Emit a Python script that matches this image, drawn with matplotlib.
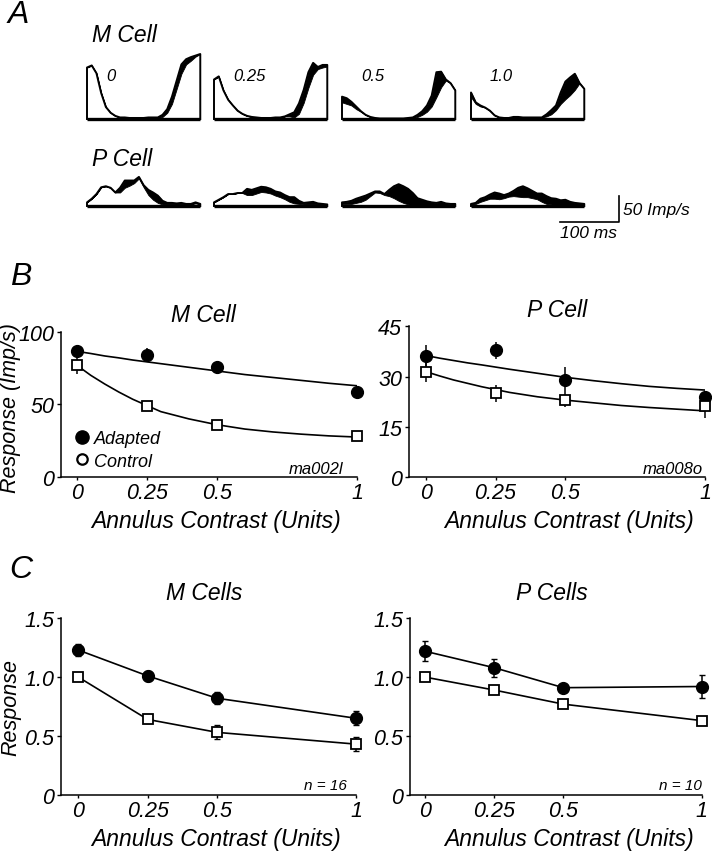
import numpy as np
import matplotlib
matplotlib.use('Agg')
import matplotlib.pyplot as plt
from matplotlib.lines import Line2D

plt.rcParams['font.family'] = ['Liberation Sans', 'DejaVu Sans']
plt.rcParams['font.style'] = 'italic'
plt.rcParams['axes.linewidth'] = 1.1

W, H = 712, 853

# ---- A: PSTHs (imp/s), 8 ms bins ----
psth_t = [0, 8, 16, 24, 32, 40, 48, 56, 64, 72, 80, 88, 96, 104, 112, 120,
          128, 136, 144, 152, 160, 168, 176, 184, 192]
psth_labels = ['0', '0.25', '0.5', '1.0']

m0_adapt = [99, 103, 88, 50, 23, 12, 6, 3, 3, 2, 2, 2, 2, 3, 3, 3, 8, 19, 43, 74, 105, 115, 119, 122, 125]
m0_ctrl = [99, 103, 88, 50, 23, 12, 6, 3, 3, 2, 2, 2, 2, 3, 3, 3, 4, 12, 29, 58, 87, 105, 112, 120, 125]
m1_adapt = [76, 82, 55, 37, 26, 16, 10, 6, 4, 3, 2, 2, 2, 3, 3, 5, 9, 13, 30, 56, 90, 108, 100, 104, 104]
m1_ctrl = [76, 82, 55, 37, 26, 16, 10, 6, 4, 3, 2, 2, 2, 3, 3, 5, 5, 3, 10, 31, 60, 85, 96, 99, 101]
m2_adapt = [43, 40, 33, 24, 15, 8, 4, 2, 1, 1, 1, 1, 1, 1, 2, 3, 8, 15, 26, 45, 90, 91, 76, 69, 55]
m2_ctrl = [32, 29, 26, 19, 14, 8, 4, 2, 1, 1, 1, 1, 1, 1, 2, 2, 4, 8, 14, 24, 42, 61, 74, 69, 55]
m3_adapt = [51, 32, 26, 22, 16, 7, 3, 2, 2, 4, 4, 3, 3, 3, 3, 3, 9, 17, 26, 51, 72, 80, 87, 69, 58]
m3_ctrl = [42, 29, 24, 22, 16, 7, 3, 2, 2, 4, 4, 3, 3, 3, 3, 3, 5, 9, 17, 29, 38, 46, 56, 69, 58]

p0_adapt = [7, 14, 23, 36, 38, 35, 26, 35, 49, 49, 49, 56, 40, 31, 26, 20, 10, 6, 6, 5, 6, 4, 4, 7, 4]
p0_ctrl = [7, 14, 23, 36, 38, 35, 26, 26, 35, 39, 44, 53, 36, 21, 12, 6, 3, 3, 3, 3, 3, 3, 3, 5, 3]
p1_adapt = [7, 12, 17, 23, 23, 25, 25, 33, 31, 34, 37, 36, 33, 28, 26, 21, 17, 17, 10, 6, 7, 8, 5, 4, 3]
p1_ctrl = [7, 12, 17, 23, 23, 25, 25, 21, 21, 24, 27, 26, 24, 20, 17, 13, 8, 5, 4, 3, 3, 3, 3, 3, 3]
p2_adapt = [7, 8, 10, 14, 17, 20, 24, 28, 28, 23, 31, 38, 42, 38, 33, 25, 15, 12, 9, 7, 6, 8, 5, 4, 4]
p2_ctrl = [3, 4, 4, 6, 8, 12, 19, 26, 25, 21, 19, 15, 10, 6, 3, 1, 2, 2, 2, 2, 2, 2, 2, 2, 2]
p3_adapt = [4, 6, 14, 17, 22, 26, 24, 21, 24, 29, 35, 38, 34, 29, 24, 24, 19, 15, 14, 11, 12, 8, 6, 5, 4]
p3_ctrl = [2, 4, 8, 11, 14, 14, 13, 15, 18, 19, 18, 17, 17, 15, 13, 8, 4, 3, 2, 2, 2, 2, 2, 2, 2]

# ---- B / C: response vs annulus contrast ----
contrast = [0, 0.25, 0.5, 1]
contrast_labels = ['0', '0.25', '0.5', '1']

bm_adapt = [87, 84, 76, 58.5]
bm_adapt_err = [2, 5, 2, 2]
bm_ctrl = [77, 49, 36, 28]
bm_ctrl_err = [6, 1.5, 1.5, 2.5]
bp_adapt = [36.2, 37.8, 29, 23.8]
bp_adapt_err = [3.3, 2.5, 4, 1.5]
bp_ctrl = [31.5, 25, 23, 21.3]
bp_ctrl_err = [3, 2.5, 2, 3.7]

fit_x = [0, 0.05, 0.1, 0.15, 0.2, 0.3, 0.4, 0.5, 0.6, 0.7, 0.8, 0.9, 1.0]
bm_adapt_fit = [86.5, 85, 83.3, 82, 80.5, 78, 75.5, 73, 70.5, 68.5, 66.5, 64.5, 62.8]
bm_ctrl_fit = [77, 70, 64, 58.5, 53.5, 45, 40, 36, 33, 31, 29.5, 28.3, 27.5]
bp_adapt_fit = [36.3, 35.5, 34.8, 34.1, 33.5, 32.2, 31, 29.8, 28.8, 27.9, 27.1, 26.5, 26]
bp_ctrl_fit = [31.5, 30.2, 29, 28, 27, 25.3, 24, 23, 22.2, 21.4, 20.8, 20.3, 19.8]

cm_adapt = [1.23, 1.01, 0.82, 0.65]
cm_adapt_err = [0.05, 0.04, 0.05, 0.06]
cm_ctrl = [1.0, 0.64, 0.53, 0.43]
cm_ctrl_err = [0, 0.03, 0.06, 0.06]
cp_adapt = [1.22, 1.08, 0.91, 0.92]
cp_adapt_err = [0.085, 0.075, 0.03, 0.1]
cp_ctrl = [1.0, 0.89, 0.77, 0.63]
cp_ctrl_err = [0, 0.02, 0.02, 0.02]

fig = plt.figure(figsize=(W / 100, H / 100), dpi=100)


def px_axes(l, t, r, b):
    return fig.add_axes([l / W, 1 - b / H, (r - l) / W, (b - t) / H])


def ftext(x, y, s, **kw):
    fig.text(x / W, 1 - y / H, s, **kw)


# --- panel A ---
px_ms = 0.59   # px per ms
px_imp = 0.52  # px per imp/s
box_left = [87, 214, 342, 471]
m_rows = [(m0_adapt, m0_ctrl), (m1_adapt, m1_ctrl), (m2_adapt, m2_ctrl), (m3_adapt, m3_ctrl)]
p_rows = [(p0_adapt, p0_ctrl), (p1_adapt, p1_ctrl), (p2_adapt, p2_ctrl), (p3_adapt, p3_ctrl)]


def draw_psth(ax, adapt, ctrl):
    ax.fill_between(psth_t, ctrl, adapt, color='black', lw=0.6)
    top = np.maximum(adapt, ctrl)
    ax.plot([psth_t[0]] + psth_t + [psth_t[-1]], [0] + list(top) + [0],
            color='black', lw=1.4, clip_on=False)
    ax.plot([psth_t[0], psth_t[-1]], [0, 0], color='black', lw=2.4,
            clip_on=False, solid_capstyle='butt')
    ax.set_xlim(0, 192)
    ax.set_ylim(0, 130)
    ax.axis('off')


for i, (adapt, ctrl) in enumerate(m_rows):
    l = box_left[i]
    ax = px_axes(l, 120 - 130 * px_imp, l + 192 * px_ms, 120)
    draw_psth(ax, adapt, ctrl)
    ax.text(32, 83, psth_labels[i], fontsize=12, ha='left', va='center')

for i, (adapt, ctrl) in enumerate(p_rows):
    l = box_left[i]
    ax = px_axes(l, 207 - 130 * px_imp, l + 192 * px_ms, 207)
    draw_psth(ax, adapt, ctrl)

# scale bar: 100 ms / 50 imp/s
ax.plot([151, 251, 251], [-31, -31, 19], color='black', lw=1.2, clip_on=False)
ax.text(257, -7, '50 Imp/s', fontsize=12.5, ha='left', va='center')
ax.text(151, -37, '100 ms', fontsize=12.5, ha='left', va='top')

ftext(18, 15, 'A', fontsize=23, ha='center', va='center')
ftext(92, 36, 'M Cell', fontsize=16.5, ha='left', va='center')
ftext(92, 160, 'P Cell', fontsize=16.5, ha='left', va='center')


# --- panels B and C ---
def style_axes(ax, xlo, ylim, yticks, ylabels):
    ax.set_xlim(xlo, 1.0)
    ax.set_ylim(*ylim)
    ax.spines['top'].set_visible(False)
    ax.spines['right'].set_visible(False)
    ax.set_xticks(contrast)
    ax.set_xticklabels(contrast_labels)
    ax.set_yticks(yticks)
    ax.set_yticklabels(ylabels)
    ax.tick_params(axis='y', length=3, width=1, pad=2, labelsize=15.5)
    ax.tick_params(axis='x', length=2, width=1, pad=1.5, labelsize=15.5)


def draw_points(ax, adapt, adapt_err, ctrl, ctrl_err, capsize, connect):
    if connect:
        ax.plot(contrast, adapt, color='black', lw=1.2, clip_on=False)
        ax.plot(contrast, ctrl, color='black', lw=1.2, clip_on=False)
    ax.errorbar(contrast, adapt, yerr=adapt_err, fmt='none', ecolor='black',
                elinewidth=1.1, capsize=capsize, clip_on=False)
    ax.errorbar(contrast, ctrl, yerr=ctrl_err, fmt='none', ecolor='black',
                elinewidth=1.1, capsize=capsize, clip_on=False)
    ax.plot(contrast, adapt, 'o', ms=8.5, mfc='black', mec='black', clip_on=False, zorder=4)
    ax.plot(contrast, ctrl, 's', ms=6.5, mfc='white', mec='black', mew=1.3,
            clip_on=False, zorder=4)


# B, M cell
ax = px_axes(61, 332.7, 357, 478)
style_axes(ax, -0.056, (0, 100), [0, 50, 100], ['0', '50', '100'])
ax.plot(fit_x, bm_adapt_fit, color='black', lw=1.2)
ax.plot(fit_x, bm_ctrl_fit, color='black', lw=1.2)
draw_points(ax, bm_adapt, bm_adapt_err, bm_ctrl, bm_ctrl_err, 0, False)
ax.set_title('M Cell', fontsize=16.5, pad=7.5, x=0.48)
ax.text(0.953, 0.01, 'ma002l', fontsize=12, ha='right', va='bottom', transform=ax.transAxes)
handles = [Line2D([], [], marker='o', ls='none', mfc='black', mec='black', ms=9.5),
           Line2D([], [], marker='o', ls='none', mfc='white', mec='black', ms=7.5, mew=1.6)]
ax.legend(handles, ['Adapted', 'Control'], loc='lower left', bbox_to_anchor=(0.045, 0.05),
          frameon=False, fontsize=13, handlelength=0.8, handletextpad=0.3,
          labelspacing=0.3, borderpad=0, borderaxespad=0)

# B, P cell
ax = px_axes(409.3, 327.3, 705, 478.3)
style_axes(ax, -0.0588, (0, 45), [0, 15, 30, 45], ['0', '15', '30', '45'])
ax.plot(fit_x, bp_adapt_fit, color='black', lw=1.2)
ax.plot(fit_x, bp_ctrl_fit, color='black', lw=1.2)
draw_points(ax, bp_adapt, bp_adapt_err, bp_ctrl, bp_ctrl_err, 0, False)
ax.set_title('P Cell', fontsize=16.5, pad=7.5)
ax.text(0.993, 0.01, 'ma008o', fontsize=12, ha='right', va='bottom', transform=ax.transAxes)

# C, M cells
c_ticks = [0, 0.5, 1.0, 1.5]
c_labels = ['0', '0.5', '1.0', '1.5']
ax = px_axes(61, 619.3, 356, 795.7)
style_axes(ax, -0.0623, (0, 1.5), c_ticks, c_labels)
draw_points(ax, cm_adapt, cm_adapt_err, cm_ctrl, cm_ctrl_err, 2.5, True)
ax.set_title('M Cells', fontsize=16.5, pad=14, x=0.485)
ax.text(0.97, 0.015, 'n = 16', fontsize=11, ha='right', va='bottom', transform=ax.transAxes)

# C, P cells
ax = px_axes(410, 619.3, 701.7, 795.7)
style_axes(ax, -0.0542, (0, 1.5), c_ticks, c_labels)
draw_points(ax, cp_adapt, cp_adapt_err, cp_ctrl, cp_ctrl_err, 2.5, True)
ax.set_title('P Cells', fontsize=16.5, pad=14, x=0.485)
ax.text(1.0, 0.015, 'n = 10', fontsize=11, ha='right', va='bottom', transform=ax.transAxes)

# shared labels
ftext(21, 277, 'B', fontsize=23, ha='center', va='center')
ftext(21, 570, 'C', fontsize=23, ha='center', va='center')
ftext(10.5, 408, 'Response (Imp/s)', fontsize=15.5, rotation=90, ha='center', va='center')
ftext(10.5, 708, 'Response', fontsize=15.5, rotation=90, ha='center', va='center')
for cx, cy in [(216.5, 521.5), (569, 521.5), (216.5, 840), (569, 840)]:
    ftext(cx, cy, 'Annulus Contrast (Units)', fontsize=16.5, ha='center', va='center')

fig.savefig('out.png', dpi=100)
